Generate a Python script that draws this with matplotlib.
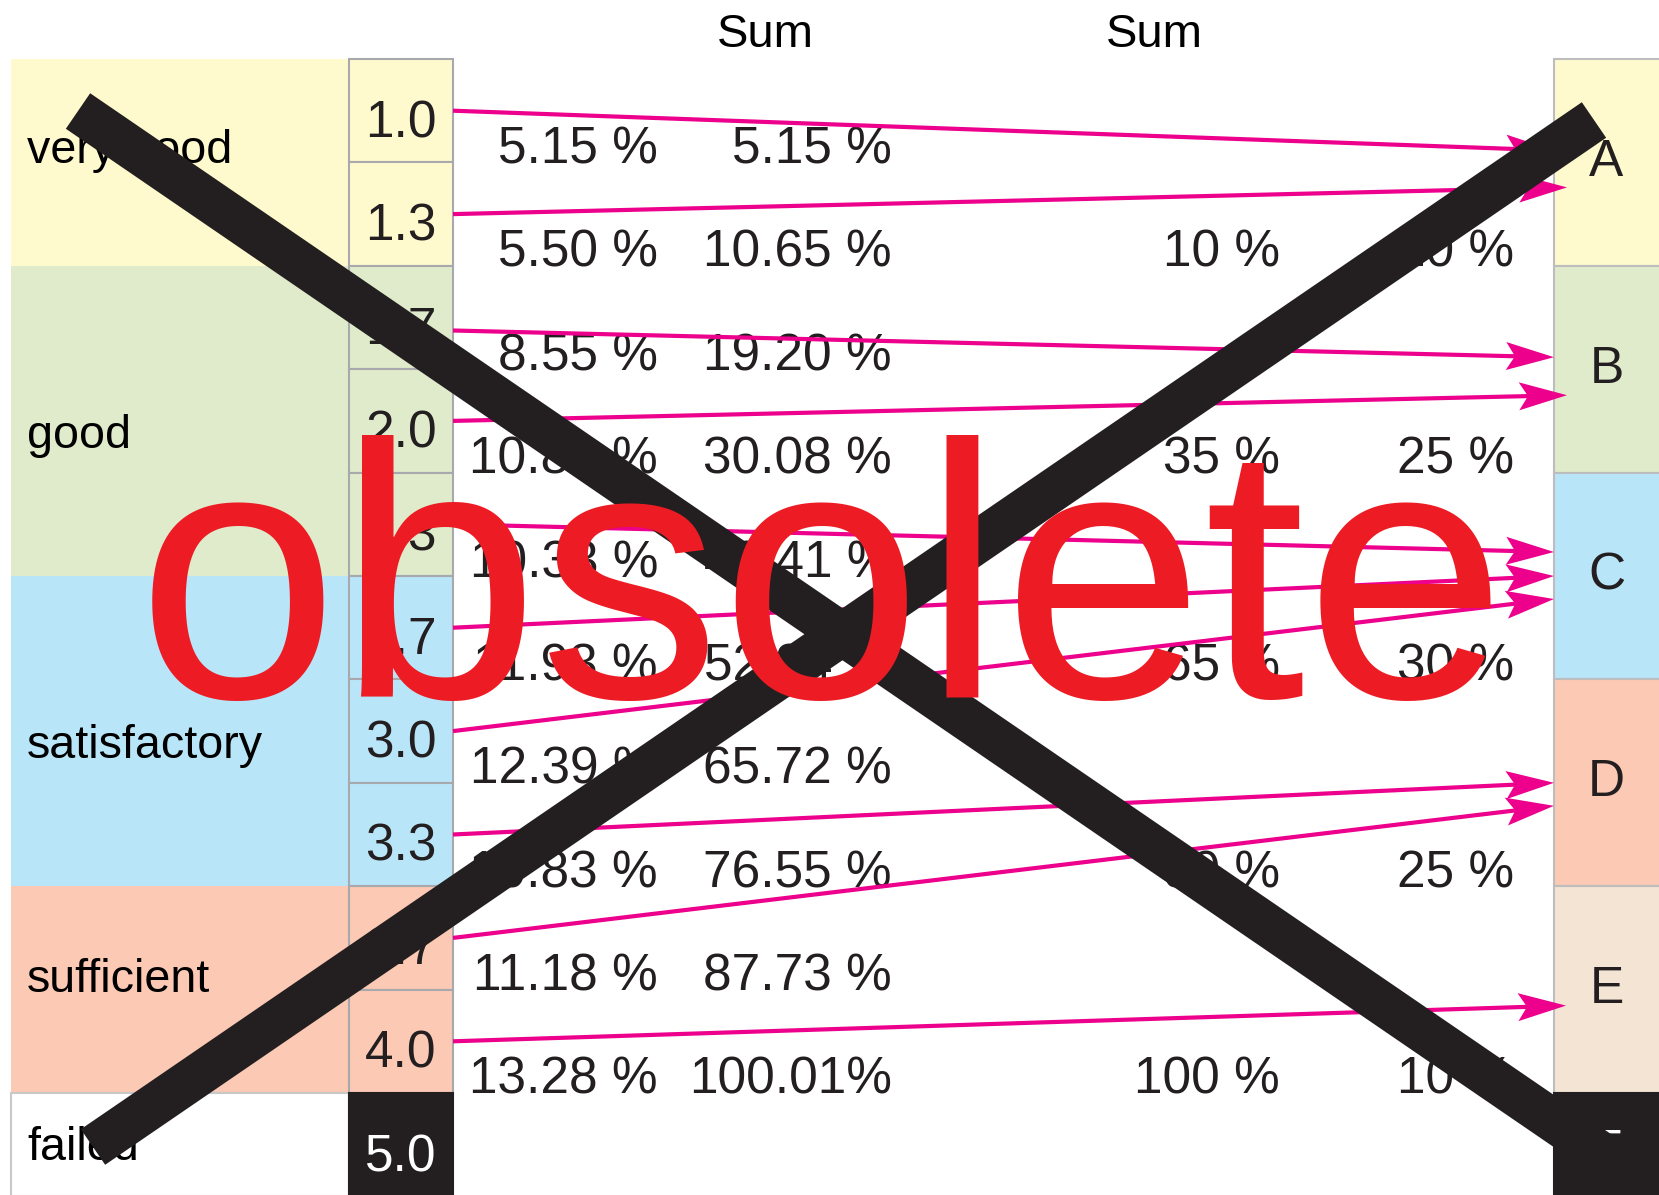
import matplotlib
matplotlib.use("Agg")
import matplotlib.pyplot as plt
from matplotlib.patches import Rectangle, Polygon
import numpy as np

# ---------------- data ----------------
grades = ["1.0", "1.3", "1.7", "2.0", "2.3", "2.7", "3.0", "3.3", "3.7", "4.0", "5.0"]
categories = ["very good", "good", "satisfactory", "sufficient", "failed"]
grades_per_category = [2, 3, 3, 2, 1]
grade_share = [5.15, 5.50, 8.55, 10.88, 10.33, 11.93, 12.39, 10.83, 11.18, 13.28]
grade_cum = [5.15, 10.65, 19.20, 30.08, 40.41, 52.34, 65.72, 76.55, 87.73, 100.01]
ects = ["A", "B", "C", "D", "E", "F"]
ects_share = [10, 25, 30, 25, 10]
ects_cum = [10, 35, 65, 90, 100]
grade_to_ects = ["A", "A", "B", "B", "C", "C", "C", "D", "D", "E"]
header = "Sum"
stamp = "obsolete"

# ---------------- style / layout ----------------
W, H = 1659, 1195
TOP, ROW = 59.0, 103.4
CAT_X0, CAT_X1 = 11, 349
BOX_X0, BOX_X1 = 349, 453
ECTS_X0, ECTS_X1 = 1554, 1662
COL_SHARE, COL_CUM = 658, 892
COL_ECUM, COL_ESHARE = 1280, 1514
SUM_X = [765, 1154]
cat_colors = ["#FFFACD", "#DFEBCA", "#B9E5F9", "#FBC9B4", "#FFFFFF"]
ects_colors = ["#FFFACD", "#DFEBCA", "#B9E5F9", "#FBC9B4", "#F3E4D4", "#231F20"]
cat_label_row = [1.007, 3.76, 6.76, 9.02, 10.65]   # baseline position in row units
tip_dy = [-12, 25, -12, 26, -24, 0, 23, 0, 23, 16]  # arrow tip offset from box centre
tip_in = [0, 13, 0, 13, 0, 0, 0, 0, 0, 12]          # arrow tip inset into box
start_dy = [0, 0, 13, 0, 0, 0, 0, 0, 0, 0]
DARK = "#231F20"
PINK = "#EC008C"
RED = "#ED1C24"
FONT = "Liberation Sans"
FS_NUM = 37
FS_CAT = 33.6
FS_HEAD = 34

plt.rcParams["font.family"] = [FONT, "DejaVu Sans"]

fig = plt.figure(figsize=(W / 100, H / 100), dpi=100)
ax = fig.add_axes([0, 0, 1, 1])
ax.set_xlim(0, W)
ax.set_ylim(H, 0)
ax.axis("off")

def row_top(i):
    return TOP + i * ROW

# left category column
r = 0
for cat, n, col, lr in zip(categories, grades_per_category, cat_colors, cat_label_row):
    y0 = row_top(r)
    ec = "#C8C8C8" if col == "#FFFFFF" else "none"
    ax.add_patch(Rectangle((CAT_X0, y0), CAT_X1 - CAT_X0, n * ROW, facecolor=col,
                           edgecolor=ec, lw=1.5, zorder=1))
    ax.text(CAT_X0 + 16, row_top(lr), cat, fontsize=FS_CAT, color="black",
            ha="left", va="baseline", zorder=3)
    # grade boxes
    for k in range(n):
        i = r + k
        dark = i == len(grades) - 1
        ax.add_patch(Rectangle((BOX_X0, row_top(i)), BOX_X1 - BOX_X0, ROW,
                               facecolor=DARK if dark else col,
                               edgecolor=DARK if dark else "#A7A9AC", lw=1.5, zorder=2))
        ax.text((BOX_X0 + BOX_X1) / 2, row_top(i) + 78, grades[i], fontsize=FS_NUM,
                color="white" if dark else DARK, ha="center", va="baseline", zorder=3)
    r += n

# right ECTS boxes
for k, (e, col) in enumerate(zip(ects, ects_colors)):
    y0 = row_top(2 * k)
    ax.add_patch(Rectangle((ECTS_X0, y0), ECTS_X1 - ECTS_X0, 2 * ROW, facecolor=col,
                           edgecolor=col if e == "F" else "#BDBDBD", lw=1.5, zorder=2))
    by = y0 + (73 if e == "F" else 117)
    ax.text((ECTS_X0 + 1659) / 2, by, e, fontsize=FS_NUM,
            color="white" if e == "F" else DARK, ha="center", va="baseline", zorder=3)

# headers
for x in SUM_X:
    ax.text(x, 47, header, fontsize=FS_HEAD, color="black", ha="center", va="baseline", zorder=3)

# percentage columns
for i, (s, c) in enumerate(zip(grade_share, grade_cum)):
    yb = row_top(i + 1) + 1
    ax.text(COL_SHARE, yb, f"{s:.2f} %", fontsize=FS_NUM, color=DARK, ha="right",
            va="baseline", zorder=3)
    ctxt = f"{c:.2f}%" if c >= 100 else f"{c:.2f} %"
    ax.text(COL_CUM, yb, ctxt, fontsize=FS_NUM, color=DARK, ha="right", va="baseline", zorder=3)

for k, (s, c) in enumerate(zip(ects_share, ects_cum)):
    yb = row_top(2 * k + 2) + 1
    ax.text(COL_ECUM, yb, f"{c} %", fontsize=FS_NUM, color=DARK, ha="right", va="baseline", zorder=3)
    ax.text(COL_ESHARE, yb, f"{s} %", fontsize=FS_NUM, color=DARK, ha="right", va="baseline", zorder=3)

# arrows
HL, HW, NOTCH = 48, 14, 9
for i, e in enumerate(grade_to_ects):
    k = ects.index(e)
    x0 = BOX_X1
    y0 = row_top(i) + ROW / 2 + start_dy[i]
    x1 = ECTS_X0 + tip_in[i]
    y1 = row_top(2 * k) + ROW + tip_dy[i]
    d = np.array([x1 - x0, y1 - y0], dtype=float)
    d /= np.hypot(*d)
    n = np.array([-d[1], d[0]])
    tip = np.array([x1, y1])
    back = tip - HL * d
    notch = tip - (HL - NOTCH) * d
    ax.plot([x0, notch[0]], [y0, notch[1]], color=PINK, lw=3.0,
            solid_capstyle="butt", zorder=4)
    ax.add_patch(Polygon([tip, back + HW * n, notch, back - HW * n], closed=True,
                         facecolor=PINK, edgecolor="none", zorder=4))

# crossing-out X
ax.plot([78, 1640], [111, 1180], color=DARK, lw=31, solid_capstyle="butt", zorder=6)
ax.plot([93, 1594], [1147, 120], color=DARK, lw=31, solid_capstyle="butt", zorder=6)

# stamp
ax.text(822, 697, stamp, fontsize=261, color=RED, ha="center", va="baseline", zorder=7)

fig.savefig("out.png", dpi=100)
